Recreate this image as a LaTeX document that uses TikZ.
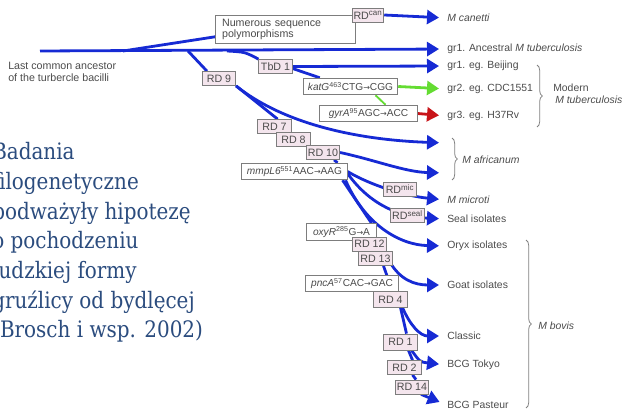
\documentclass[tikz,border=0pt]{standalone}
\usepackage{fontspec}
\setmainfont{Liberation Sans}
\newfontfamily\polfont[FakeStretch=0.88]{DejaVu Serif}
\newfontfamily\arrfont{DejaVu Sans}
\usetikzlibrary{arrows.meta,decorations.pathreplacing,backgrounds,calc}
\definecolor{lnblue}{RGB}{22,42,212}
\definecolor{lngreen}{RGB}{100,220,50}
\definecolor{lnred}{RGB}{200,20,25}
\definecolor{boxpink}{RGB}{244,229,237}
\definecolor{boxline}{RGB}{125,125,125}
\definecolor{txtgray}{RGB}{75,75,75}
\definecolor{poltext}{RGB}{43,76,126}
\newcommand{\myarr}{{\arrfont\fontsize{6}{7}\selectfont →}}
\begin{document}
\begin{tikzpicture}[x=0.75pt,y=-0.75pt,
  lab/.style={anchor=west,inner sep=0pt,font=\fontsize{7.8}{9}\selectfont,text=txtgray},
  rdbox/.style={draw=boxline,fill=boxpink,line width=0.6pt,inner sep=1pt,minimum width=25pt,minimum height=10.5pt,font=\fontsize{8}{9}\selectfont,text=txtgray},
  mutbox/.style={draw=boxline,fill=white,line width=0.6pt,inner xsep=1.5pt,inner ysep=1pt,minimum height=12.5pt,font=\fontsize{7.6}{9}\selectfont,text=txtgray},
  br/.style={line width=2.1pt,draw=lnblue},
  arr/.style={br,shorten >=6pt,-{Triangle[length=9pt,width=10.5pt]}},
  brc/.style={draw=gray,line width=0.6pt,decorate,decoration={brace,amplitude=4pt}},
  pol/.style={anchor=base west,inner sep=0pt,font=\polfont\fontsize{17}{22}\selectfont,text=poltext}
]
\useasboundingbox (0,0) rectangle (623,413);

% Polish text (cut at the left edge, as in the reference)
\begin{scope}
\clip (0,0) rectangle (623,413);
\node[pol] (p1) at (-8,160) {Badania};
\node[pol] (p2) at (-8,189.6) {filogenetyczne};
\node[pol] (p3) at (-8,219.2) {podważyły hipotezę};
\node[pol] (p4) at (-8,248.8) {o pochodzeniu};
\node[pol] (p5) at (-8,278.4) {ludzkiej formy};
\node[pol] (p6) at (-8,308) {gruźlicy od bydlęcej};
\node[pol] (p7) at (-8,337.6) {(Brosch i wsp. 2002)};
\end{scope}

% ancestor label
\node[anchor=north west,inner sep=0pt,align=left,font=\fontsize{8}{9}\selectfont,text=txtgray] (anc) at (8,62) {Last common ancestor\\of the turbercle bacilli};

% end labels
\node[lab] (lcan) at (447,18) {\textit{M canetti}};
\node[lab] (lanc) at (447,49) {gr1. Ancestral \textit{M tuberculosis}};
\node[lab] (lbei) at (447,66) {gr1. eg. Beijing};
\node[lab] (lcdc) at (447,89) {gr2. eg. CDC1551};
\node[lab] (lh37) at (447,116) {gr3. eg. H37Rv};
\node[lab] (lmic) at (447,200) {\textit{M microti}};
\node[lab] (lseal) at (447,219) {Seal isolates};
\node[lab] (loryx) at (447,246) {Oryx isolates};
\node[lab] (lgoat) at (447,285) {Goat isolates};
\node[lab] (lcla) at (447,336) {Classic};
\node[lab] (ltok) at (447,365) {BCG Tokyo};
\node[lab] (lpas) at (447,405) {BCG Pasteur};
\coordinate (afr1) at (447,143);
\coordinate (afr2) at (447,173);

% group labels and braces
\draw[brc] (537,65) -- (537,127);
\node[lab] (lmod1) at (553,88) {Modern};
\node[lab] (lmod2) at (555,100) {\textit{M tuberculosis}};
\draw[brc] (452,138) -- (452,180);
\node[lab] (lafr) at (462,160) {\textit{M africanum}};
\draw[brc] (526,240) -- (526,408);
\node[lab] (lbov) at (538,326) {\textit{M bovis}};

% boxes
\node[draw=boxline,fill=white,line width=0.6pt,anchor=north west,minimum width=105pt,minimum height=21pt,inner xsep=5pt,inner ysep=2pt,align=left,text width=95pt,font=\fontsize{8}{8.2}\selectfont,text=txtgray] (num) at (215,15) {Numerous sequence\\polymorphisms};
\node[rdbox,minimum width=22.5pt] (RDcan) at (368,15) {RD\textsuperscript{can}};
\node[rdbox] (TbD1) at (275.5,66.5) {TbD 1};
\node[rdbox] (RD9) at (219,78.5) {RD 9};
\node[mutbox,minimum width=71pt] (katG) at (350.5,86.5) {\textit{katG}\textsuperscript{463}CTG\myarr CGG};
\node[mutbox,minimum width=73pt] (gyrA) at (368.5,113.5) {\textit{gyrA}\textsuperscript{95}AGC\myarr ACC};
\node[rdbox] (RD7) at (274.5,126.5) {RD 7};
\node[rdbox] (RD8) at (293.5,139.5) {RD 8};
\node[rdbox] (RD10) at (323,152.5) {RD 10};
\node[mutbox,minimum width=79pt] (mmpL6) at (294.5,171.5) {\textit{mmpL6}\textsuperscript{551}AAC\myarr AAG};
\node[rdbox] (RDmic) at (400,189) {RD\textsuperscript{mic}};
\node[rdbox] (RDseal) at (407.5,215) {RD\textsuperscript{seal}};
\node[mutbox,minimum width=52pt] (oxyR) at (341.5,232) {\textit{oxyR}\textsuperscript{285}G\myarr A};
\node[rdbox] (RD12) at (369.5,244) {RD 12};
\node[rdbox] (RD13) at (375.5,258.5) {RD 13};
\node[mutbox,minimum width=70pt] (pncA) at (352,283.5) {\textit{pncA}\textsuperscript{57}CAC\myarr GAC};
\node[rdbox,minimum height=11.5pt] (RD4) at (390.5,299.5) {RD 4};
\node[rdbox,minimum height=12pt] (RD1) at (400.5,342) {RD 1};
\node[rdbox] (RD2) at (404.5,367.5) {RD 2};
\node[rdbox] (RD14) at (412,387) {RD 14};

% connectors
\begin{scope}[on background layer]
\coordinate (root) at (40,51);
\coordinate (j1) at (123,51);
\coordinate (j2) at (188,51);
\coordinate (j3) at (227,51);
\draw[arr] (root) -- (lanc.west);
\draw[br] (j1) -- ($(num.south west)+(0,-7)$);
\draw[br] (j2) -- ($(RD9.north west)+(5,0)$);
\draw[br] (j3) .. controls (245,52) .. (TbD1.north west);
\draw[arr] (RDcan.east) -- (lcan.west);
\draw[arr] (TbD1.east) -- (lbei.west);
\draw[br] ($(TbD1.east)+(0,2)$) -- ($(katG.north west)+(17,0)$);
\draw[arr,draw=lngreen] (katG.east) -- (lcdc.west);
\draw[line width=1.4pt,draw=lngreen] ($(katG.south)+(25,0)$) -- ($(gyrA.north)+(17,0)$);
\draw[arr,draw=lnred] (gyrA.east) -- (lh37.west);
% africanum
\draw[arr] (RD9.south east) .. controls (285,125) and (360,140) .. (afr1);
\draw[br] (RD9.south east) -- ($(RD7.north east)+(-14,0)$);
\draw[br] (RD7.center) -- (RD8.center) -- (RD10.center);
\draw[arr] (RD10.east) .. controls (375,160) and (405,172) .. (afr2);
\draw[br] ($(RD10.south east)+(-6,0)$) -- ($(mmpL6.north east)+(-10,0)$);
% microti, seal, oryx
\draw[arr] (mmpL6.east) .. controls (370,185) and (405,196) .. (lmic.west);
\draw[arr] ($(mmpL6.east)+(0,2)$) .. controls (370,205) and (400,217) .. (lseal.west);
\draw[arr] ($(mmpL6.south east)+(-2,0)$) .. controls (365,225) and (400,245) .. (loryx.west);
\draw[br] ($(mmpL6.south east)+(-5,0)$) -- ($(oxyR.north east)+(-5,0)$);
\draw[br] ($(oxyR.north east)+(-5,0)$) -- (RD12.center) -- (RD13.center);
% bovis
\draw[arr] ($(RD13.east)+(-3,3)$) .. controls (400,280) and (415,285) .. (lgoat.west);
\draw[br] ($(RD13.south)+(8,0)$) -- ($(RD4.north)+(2,0)$);
\draw[arr] ($(RD4.south)+(12,0)$) .. controls (410,325) and (420,336) .. (lcla.west);
\draw[br] ($(RD4.south)+(10,0)$) -- ($(RD1.north)+(6,0)$);
\draw[arr] ($(RD1.south east)+(-6,0)$) .. controls (420,362) .. (ltok.west);
\draw[br] ($(RD1.south)+(8,0)$) -- ($(RD2.north)+(8,0)$);
\draw[br] ($(RD2.south)+(8,0)$) -- ($(RD14.north)+(4,0)$);
\draw[arr] ($(RD14.south east)+(-8,0)$) -- (lpas.west);
\end{scope}
\end{tikzpicture}
\end{document}
